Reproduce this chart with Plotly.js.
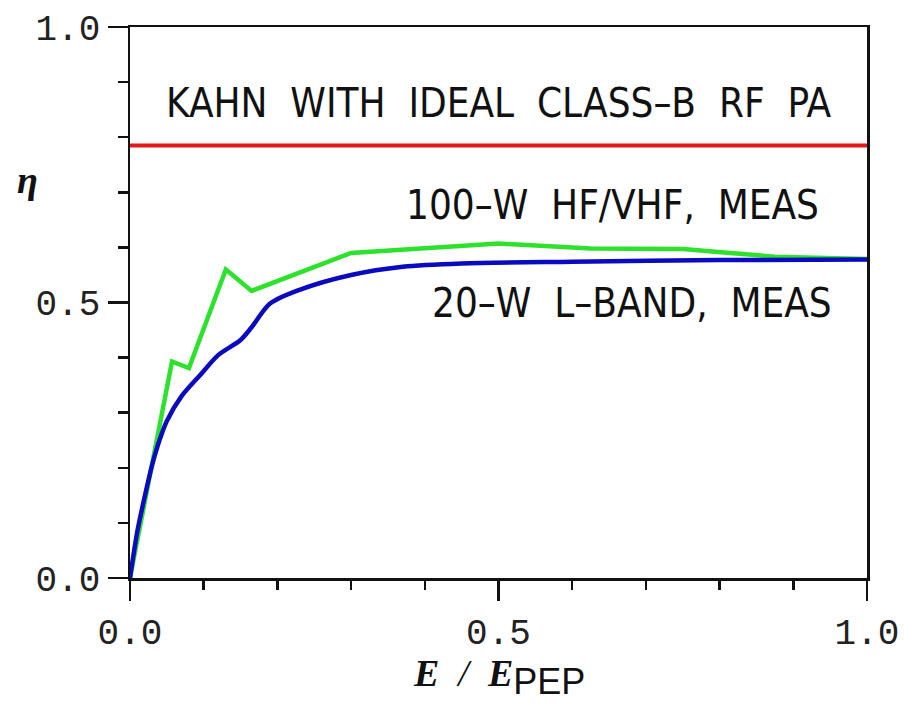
<!DOCTYPE html>
<html>
<head>
<meta charset="utf-8">
<script src="https://cdn.plot.ly/plotly-3.0.1.min.js"></script>
<style>html,body{margin:0;padding:0;background:#fff;}#chart{width:917px;height:719px;}</style>
</head>
<body>
<div id="chart"></div>
<script>
// Data
const kahnX = [0, 1];
const kahnY = [0.785, 0.785];

const hfX = [0, 0.057, 0.08, 0.13, 0.165, 0.3, 0.5, 0.625, 0.75, 0.875, 1.0];
const hfY = [0, 0.393, 0.381, 0.560, 0.521, 0.590, 0.607, 0.598, 0.597, 0.583, 0.579];

const lbX = [0, 0.01, 0.02, 0.03, 0.04, 0.05, 0.07, 0.095, 0.12, 0.15, 0.165, 0.19, 0.23, 0.3, 0.37, 0.45, 0.6, 0.8, 1.0];
const lbY = [0, 0.085, 0.148, 0.205, 0.25, 0.285, 0.33, 0.368, 0.405, 0.432, 0.455, 0.498, 0.523, 0.55, 0.565, 0.571, 0.574, 0.577, 0.578];

const labelKahn = 'KAHN  WITH  IDEAL  CLASS\u2013B  RF  PA';
const labelHF = '100\u2013W  HF/VHF,  MEAS';
const labelLB = '20\u2013W  L\u2013BAND,  MEAS';

const annFont = {family: '"Liberation Sans Narrow", "DejaVu Sans Condensed", "Liberation Sans", sans-serif', size: 40, color: '#111'};

const traces = [
  {x: kahnX, y: kahnY, mode: 'lines', line: {color: 'rgb(225,25,25)', width: 4}, hoverinfo: 'skip'},
  {x: hfX, y: hfY, mode: 'lines', line: {color: 'rgb(45,225,45)', width: 4.5}, hoverinfo: 'skip'},
  {x: lbX, y: lbY, mode: 'lines', line: {color: 'rgb(10,10,190)', width: 4.5, shape: 'spline', smoothing: 0.8}, hoverinfo: 'skip'}
];

const tickFont = {family: '"Liberation Mono", "DejaVu Sans Mono", monospace', size: 36, color: '#222'};

const layout = {
  width: 917, height: 719,
  margin: {l: 130, r: 50, t: 27, b: 141},
  paper_bgcolor: '#fff', plot_bgcolor: '#fff',
  showlegend: false,
  xaxis: {
    range: [0, 1], dtick: 0.5, tick0: 0, tickformat: '.1f',
    ticks: 'outside', ticklen: 20, tickwidth: 2.5, tickcolor: '#111',
    minor: {dtick: 0.1, ticks: 'outside', ticklen: 9, tickwidth: 2.5, tickcolor: '#111', showgrid: false},
    showline: true, linecolor: '#111', linewidth: 2.5, mirror: true,
    showgrid: false, zeroline: false, tickfont: tickFont, fixedrange: true
  },
  yaxis: {
    range: [0, 1], dtick: 0.5, tick0: 0, tickformat: '.1f',
    ticks: 'outside', ticklen: 20, tickwidth: 2.5, tickcolor: '#111',
    minor: {dtick: 0.1, ticks: 'outside', ticklen: 10, tickwidth: 2.5, tickcolor: '#111', showgrid: false},
    showline: true, linecolor: '#111', linewidth: 2.5, mirror: true,
    showgrid: false, zeroline: false, tickfont: tickFont, fixedrange: true
  },
  annotations: [
    {x: 0.5, y: 0.862, xref: 'x', yref: 'y', text: labelKahn, showarrow: false, font: annFont, xanchor: 'center', yanchor: 'middle'},
    {x: 0.938, y: 0.677, xref: 'x', yref: 'y', text: labelHF, showarrow: false, font: annFont, xanchor: 'right', yanchor: 'middle'},
    {x: 0.955, y: 0.5, xref: 'x', yref: 'y', text: labelLB, showarrow: false, font: annFont, xanchor: 'right', yanchor: 'middle'},
    {x: (27 - 130) / 737, y: (578 - 180) / 551, xref: 'paper', yref: 'paper', text: '<b><i>\u03b7</i></b>', showarrow: false,
     font: {family: '"Liberation Serif", "DejaVu Serif", serif', size: 38, color: '#111'}, xanchor: 'center', yanchor: 'middle'},
    {x: 0.5, y: -0.18, xref: 'paper', yref: 'paper',
     text: '<b><i>E</i></b>  <i>/</i>  <b><i>E</i></b><sub><span style="font-family:Liberation Sans, sans-serif;font-size:36px">PEP</span></sub>',
     showarrow: false, font: {family: '"Liberation Serif", "DejaVu Serif", serif', size: 38, color: '#111'}, xanchor: 'center', yanchor: 'middle'}
  ]
};

Plotly.newPlot('chart', traces, layout, {staticPlot: true, displayModeBar: false});
</script>
</body>
</html>
